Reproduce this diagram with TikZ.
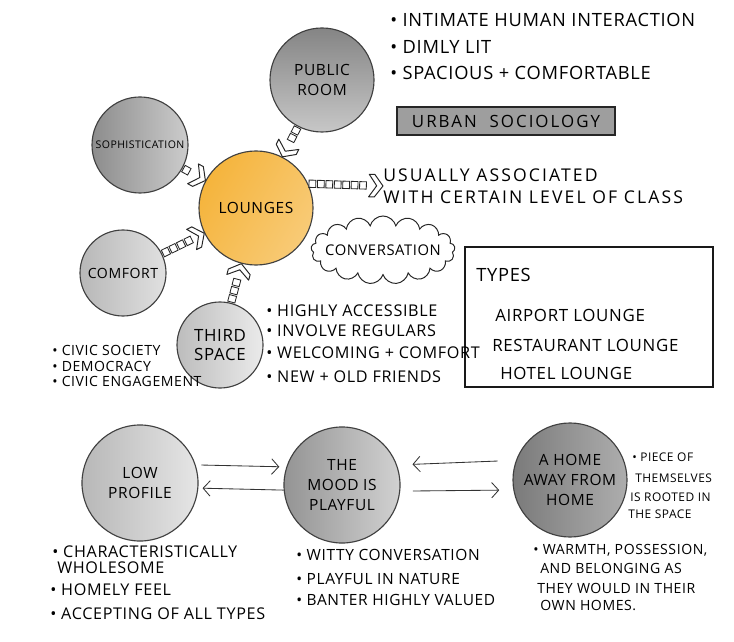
\documentclass[tikz,border=0pt]{standalone}
\usepackage{fontspec}
\setmainfont{Open Sans}
\newfontfamily\hand[LetterSpace=4]{Open Sans}
\newfontfamily\widehand[LetterSpace=12]{Open Sans}
\usetikzlibrary{arrows.meta, positioning, shapes.symbols, decorations.markings}
\definecolor{loungeorange}{RGB}{245,180,60}

\tikzset{
  bubble/.style={circle, draw=black!75, line width=0.8pt, minimum size=#1, inner sep=0pt,
    align=center, font=\hand\fontsize{11}{14}\selectfont},
  note/.style={anchor=west, inner sep=0pt, font=\hand\fontsize{11}{13}\selectfont},
  small note/.style={note, font=\hand\fontsize{10}{12}\selectfont},
  boxarrow/.style={decoration={markings,
      mark=between positions 3pt and -12pt step 6pt with {\draw[black!85, fill=white, line width=0.6pt] (-2.4pt,-2.6pt) rectangle (2.4pt,2.6pt);},
      mark=at position 1 with {\draw[black!85, fill=white, line width=0.7pt, line join=round]
        (0,0) -- (-6pt,8pt) -- (-10pt,8pt) -- (-4.5pt,0) -- (-10pt,-8pt) -- (-6pt,-8pt) -- cycle;}},
    postaction=decorate},
  mutual/.style={-{Straight Barb[length=5pt, width=11pt]}, black!80, line width=0.6pt}
}

\begin{document}
\begin{tikzpicture}[x=0.025cm, y=-0.025cm]
    \useasboundingbox (0,0) rectangle (734,642);

    % Circles round the lounge
    \node[bubble=2.85cm, left color=loungeorange, right color=loungeorange!70!white, shading angle=60] (lounge) at (256,208) {LOUNGES};
    \node[bubble=2.6cm, top color=black!48, bottom color=black!22] (public) at (322,80) {PUBLIC\\ROOM};
    \node[bubble=2.4cm, left color=black!45, right color=black!20, font=\hand\fontsize{7.5}{9}\selectfont] (soph) at (140,145) {SOPHISTICATION};
    \node[bubble=2.15cm, left color=black!28, right color=black!12, font=\hand\fontsize{10}{12}\selectfont] (comfort) at (123,273) {COMFORT};
    \node[bubble=2.15cm, left color=black!26, right color=black!8, font=\hand\fontsize{12}{14}\selectfont] (third) at (220,345) {THIRD\\SPACE};

    % Chain arrows
    \path[boxarrow] (public) -- (lounge);
    \path[boxarrow] (soph) -- (lounge);
    \path[boxarrow] (comfort) -- (lounge);
    \path[boxarrow] (third) -- (lounge);

    % Notes top right
    \foreach \y/\t in {20/{INTIMATE HUMAN INTERACTION}, 47/{DIMLY LIT}, 73/{SPACIOUS + COMFORTABLE}}
        \node[note, font=\hand\fontsize{13}{15}\selectfont] (feat-\y) at (390,\y) {\textbullet\ \t};
    \node[draw=black!85, line width=1pt, fill=black!38, minimum width=5.45cm, minimum height=0.7cm,
        font=\widehand\fontsize{12}{14}\selectfont] (urban) at (506,121) {URBAN\ \ SOCIOLOGY};

    \node[note, align=left, font=\widehand\fontsize{12.5}{15.5}\selectfont] (usual) at (383,186) {USUALLY ASSOCIATED\\WITH CERTAIN LEVEL OF CLASS};
    \path[boxarrow] (lounge.25) -- (usual.west);

    \node[cloud, cloud puffs=17, cloud ignores aspect, draw=black!85, line width=0.7pt, minimum width=3.6cm,
        minimum height=1.7cm, inner sep=0pt, font=\hand\fontsize{10.5}{12}\selectfont] (talk) at (383,250) {\makebox[0pt]{CONVERSATION}};

    % Types box
    \node[draw=black!90, line width=1.1pt, minimum width=6.2cm, minimum height=3.5cm] (types) at (589,317) {};
    \node[note, font=\hand\fontsize{13}{15}\selectfont] (types-head) at (476,275) {TYPES};
    \node[note, font=\hand\fontsize{12}{14}\selectfont] (airport) at (495,315) {AIRPORT LOUNGE};
    \node[note, font=\hand\fontsize{12}{14}\selectfont] (restaurant) at (492,345) {RESTAURANT LOUNGE};
    \node[note, font=\hand\fontsize{12}{14}\selectfont] (hotel) at (500,373) {HOTEL LOUNGE};

    % Third space notes
    \foreach \y/\t in {311/{HIGHLY ACCESSIBLE}, 331/{INVOLVE REGULARS}, 353/{WELCOMING + COMFORT}, 377/{NEW + OLD FRIENDS}}
        \node[note, font=\hand\fontsize{11.5}{13}\selectfont] (acc-\y) at (266,\y) {\textbullet\ \t};
    \foreach \y/\t in {350/{CIVIC SOCIETY}, 366/{DEMOCRACY}, 381/{CIVIC ENGAGEMENT}}
        \node[small note] (civic-\y) at (52,\y) {\textbullet\ \t};

    % Bottom row
    \node[bubble=2.9cm, left color=black!28, right color=black!10] (low) at (140,483) {LOW\\PROFILE};
    \node[bubble=2.9cm, left color=black!42, right color=black!18] (mood) at (342,485) {THE\\MOOD IS\\PLAYFUL};
    \node[bubble=2.85cm, left color=black!52, right color=black!32] (home) at (570,480) {A HOME\\AWAY FROM\\HOME};

    \draw[mutual, shorten <=4pt, shorten >=5pt] (low.18) -- (mood.162);
    \draw[mutual, shorten >=3pt] (mood.185) -- (low.-5);
    \draw[mutual, shorten <=13pt, shorten >=11pt] (home.160) -- (mood.20);
    \draw[mutual, shorten <=9pt, shorten >=10pt] (mood.-6) -- (home.190);

    \foreach \x/\y/\t in {52/552/{\textbullet\ CHARACTERISTICALLY}, 57/568/{WHOLESOME}, 50/590/{\textbullet\ HOMELY FEEL}, 50/614/{\textbullet\ ACCEPTING OF ALL TYPES}}
        \node[note, font=\hand\fontsize{11.5}{13}\selectfont] (lowtxt-\y) at (\x,\y) {\t};
    \foreach \y/\t in {555/{WITTY CONVERSATION}, 579/{PLAYFUL IN NATURE}, 600/{BANTER HIGHLY VALUED}}
        \node[note] (moodtxt-\y) at (296,\y) {\textbullet\ \t};
    \foreach \x/\y/\t in {632/457/{\textbullet\ PIECE OF}, 635/478/{THEMSELVES}, 630/497/{IS ROOTED IN}, 628/514/{THE SPACE}}
        \node[note, font=\hand\fontsize{8.5}{10}\selectfont] (side-\y) at (\x,\y) {\t};
    \foreach \x/\y/\t in {533/550/{\textbullet\ WARMTH, POSSESSION,}, 540/568/{AND BELONGING AS}, 537/588/{THEY WOULD IN THEIR}, 540/605/{OWN HOMES.}}
        \node[small note] (hometxt-\y) at (\x,\y) {\t};
\end{tikzpicture}
\end{document}
